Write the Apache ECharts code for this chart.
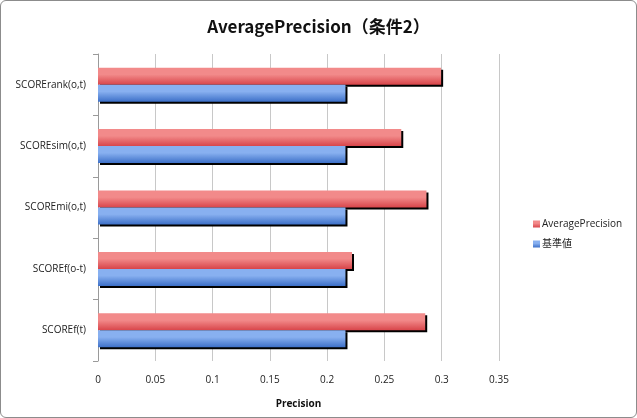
<!DOCTYPE html>
<html><head><meta charset="utf-8">
<script src="https://cdn.jsdelivr.net/npm/echarts@6/dist/echarts.min.js"></script>
<style>
html,body{margin:0;padding:0;background:#fff;}
#c{width:637px;height:418px;box-sizing:border-box;border:1px solid #8c8c8c;border-radius:6px;overflow:hidden;}
</style></head><body>
<div id="c"></div>
<script>
var categories = ['SCOREf(t)', 'SCOREf(o-t)', 'SCOREmi(o,t)', 'SCOREsim(o,t)', 'SCORErank(o,t)'];
var baseValues = [0.216, 0.216, 0.216, 0.216, 0.216];
var apValues = [0.2856, 0.2217, 0.2867, 0.2647, 0.2995];
var xTicks = [0, 0.05, 0.1, 0.15, 0.2, 0.25, 0.3, 0.35];

var font = '"Open Sans","Noto Sans CJK JP",sans-serif';
var chart = echarts.init(document.getElementById('c'), null, {renderer:'canvas'});
function grad(top, bottom){
  return new echarts.graphic.LinearGradient(0,0,0,1,[{offset:0,color:top},{offset:0.4,color:top},{offset:1,color:bottom}]);
}
chart.setOption({
  animation:false,
  title:{text:'AveragePrecision（条件2）',left:'center',top:12,
    textStyle:{fontFamily:'"Noto Sans CJK JP",sans-serif',fontWeight:'bold',fontSize:17,color:'#111'}},
  legend:{data:['AveragePrecision','基準値'],orient:'vertical',left:527,top:213,itemWidth:7,itemHeight:7,itemGap:10,
    icon:'rect',textStyle:{fontFamily:font,fontSize:10,color:'#222',padding:[0,0,0,-3]}},
  grid:{left:97,right:137,top:53,bottom:56,containLabel:false},
  xAxis:{type:'value',min:0,max:0.35,interval:0.05,
    name:'Precision',nameLocation:'middle',nameGap:38,
    nameTextStyle:{fontFamily:font,fontWeight:'bold',fontSize:10,color:'#111'},
    axisLine:{show:false},axisTick:{show:false},
    axisLabel:{fontFamily:font,fontSize:10,color:'#222',margin:14,
      formatter:function(v){ var i=xTicks.indexOf(Math.round(v*100)/100); return i>=0?String(xTicks[i]):''; }},
    splitLine:{show:true,lineStyle:{color:'#c8c8c8',width:1}}},
  yAxis:{type:'category',data:categories,
    axisLine:{show:true,lineStyle:{color:'#9a9a9a'}},
    axisTick:{show:true,length:5,lineStyle:{color:'#9a9a9a'}},
    axisLabel:{fontFamily:font,fontSize:10,color:'#222',margin:12},
    splitLine:{show:false}},
  series:[
    {name:'AveragePrecision',type:'bar',data:apValues,barWidth:17,barGap:'0%',
      itemStyle:{color:grad('#f28a8a','#d8454a'),shadowColor:'#000',shadowOffsetX:2,shadowOffsetY:2,shadowBlur:0}},
    {name:'基準値',type:'bar',data:baseValues,barWidth:17,
      itemStyle:{color:grad('#88b0f0','#3d70c8'),shadowColor:'#000',shadowOffsetX:2,shadowOffsetY:2,shadowBlur:0}}
  ]
});
</script>
</body></html>
